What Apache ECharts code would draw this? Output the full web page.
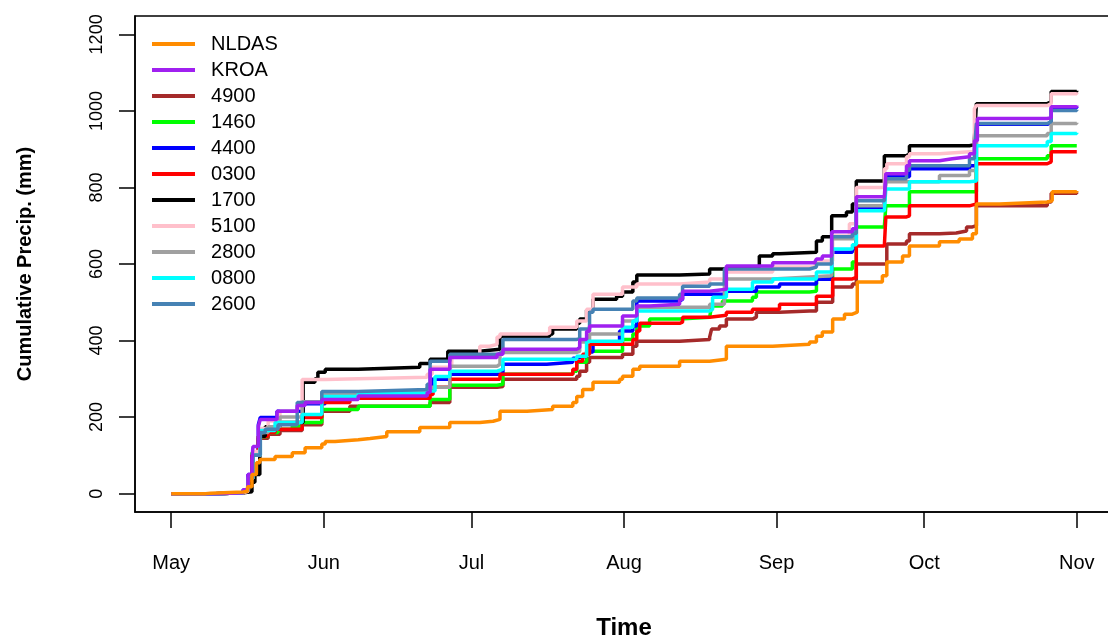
<!DOCTYPE html>
<html>
<head>
<meta charset="utf-8">
<script src="https://cdn.jsdelivr.net/npm/echarts@6/dist/echarts.min.js"></script>
<style>
  html, body { margin: 0; background: #fff; }
  #chart { width: 1108px; height: 641px; }
</style>
</head>
<body>
<div id="chart"></div>
<script>
// x values are days counted from May 1
const monthDays = [0, 31, 61, 92, 123, 153, 184];
const monthLabels = ['May', 'Jun', 'Jul', 'Aug', 'Sep', 'Oct', 'Nov'];
const yTicks = [0, 200, 400, 600, 800, 1000, 1200];

const legendOrder = ['NLDAS', 'KROA', '4900', '1460', '4400', '0300', '1700', '5100', '2800', '0800', '2600'];
const colors = {
  NLDAS: '#FF8C00', KROA: '#A020F0', '4900': '#A52A2A', '1460': '#00FF00', '4400': '#0000FF',
  '0300': '#FF0000', '1700': '#000000', '5100': '#FFC0CB', '2800': '#A0A0A0', '0800': '#00FFFF', '2600': '#4682B4'
};

// cumulative precipitation (mm), [day, value] at each step
const nldas = [[0,0],[7,1],[8,4],[14.6,6],[15.5,18],[16.4,50],[17.3,81],[18,89],[21.1,97],[24.6,107],[27.2,120],[30.6,130],[31.3,136],[33.3,141],[38,144],[40.4,149],[43.8,162],[50.5,173],[56.6,186],[62.7,189],[65.4,194],[66.8,215],[72.3,220],[77.5,228],[81.6,238],[82.4,254],[83.6,272],[85.7,291],[91.1,299],[91.7,307],[93.8,325],[95.2,333],[103.3,346],[109.4,351],[112.8,385],[122.2,390],[129.7,396],[131.1,411],[132.3,422],[134.4,456],[136.8,469],[138.4,474],[139.4,553],[144.5,569],[145.4,605],[148.6,621],[150,647],[156.1,658],[160.1,665],[162.8,679],[163.6,757],[168.3,762],[178,765],[179,789],[184,791]];
const kroa = [[0,0],[9,2],[14.6,10],[15.6,50],[16.4,89],[16.6,123],[17.7,176],[18.1,194],[21.5,215],[25.6,230],[27.2,238],[30.6,246],[38,255],[52,264],[52.6,325],[56.6,356],[66.2,364],[67.4,377],[82.4,382],[83,403],[84.4,424],[85,438],[91.7,464],[94.6,490],[97.2,495],[103.3,508],[103.9,529],[109.4,534],[112.8,595],[122.2,603],[130.7,605],[131.1,613],[132.3,621],[134.2,684],[138.4,692],[139.2,776],[144.9,776],[145.2,836],[149.4,857],[150,870],[156.1,875],[158.7,880],[162.2,888],[163.2,922],[163.8,980],[178,982],[178.8,1011],[184,1014]];
const s4900 = [[0,0],[9,2],[14.6,5],[15.6,25],[16.4,100],[17.7,145],[19.7,155],[22.1,165],[26.6,180],[30.6,215],[36.3,228],[52.6,238],[56.6,278],[66.2,280],[67.4,299],[82.4,307],[83,320],[84.4,343],[85,356],[91.7,364],[93.8,385],[94.6,398],[103.3,403],[109.4,409],[109.8,430],[111.4,438],[112.8,456],[118.1,461],[118.9,474],[123.6,477],[129.7,477],[131.1,500],[134.4,540],[138.4,548],[139.2,600],[144.9,600],[145.4,652],[149.4,660],[150,679],[156.1,681],[159.5,686],[161.6,697],[162.8,700],[163.6,752],[178,762],[178.8,785],[184,787]];
const s1460 = [[0,0],[9,2],[14.6,6],[15.6,30],[16.4,107],[17.7,149],[19.7,160],[21.7,168],[24.6,176],[26.6,186],[30.6,220],[38,228],[52.6,246],[56.6,283],[66.2,286],[67.4,312],[81.6,320],[82.4,343],[84.4,372],[91.7,403],[93.8,417],[94.6,438],[97.2,456],[103.3,461],[109.4,464],[109.8,490],[112,503],[118.1,513],[118.9,527],[129.7,529],[131.1,561],[134.4,587],[138.4,605],[139.2,697],[144.9,697],[145.2,752],[150,789],[162.2,789],[163.6,875],[178,883],[178.8,909],[184,909]];
const s4400 = [[0,0],[9,2],[14.6,10],[15.6,50],[16.4,100],[17.7,180],[18.1,199],[21.5,215],[26.8,235],[31.3,248],[38,256],[52,262],[53,299],[56.6,312],[67.4,338],[76.3,343],[81.6,354],[82.4,359],[84.4,370],[85.7,390],[91.1,425],[93.8,438],[94.6,503],[103.3,508],[103.9,521],[112.8,529],[118.9,540],[123.6,548],[129.7,548],[131.1,560],[134.2,631],[138.4,640],[139.2,745],[144.9,760],[145.2,828],[150,849],[162.2,857],[163.6,965],[178,970],[178.8,1008],[184,1010]];
const s0300 = [[0,0],[9,2],[14.6,6],[15.6,30],[16.4,100],[17.7,150],[19.7,160],[21.1,168],[26.6,199],[30.6,238],[36.3,249],[52.6,259],[53.2,278],[56.6,299],[64.7,299],[66.8,312],[81.6,325],[82.4,346],[83.6,364],[85,390],[93.8,403],[94.6,425],[95.2,445],[103.3,448],[103.9,461],[109.4,466],[112.8,474],[118.1,482],[123.6,495],[129.7,495],[131.1,516],[134.4,561],[138.4,565],[139.2,647],[144.9,647],[145.2,723],[149.4,726],[150,752],[162.2,757],[163.6,862],[178,867],[178.8,893],[184,893]];
const s1700 = [[0,0],[9,2],[14.6,5],[16.4,30],[17,50],[18,150],[19.1,175],[22.1,186],[26.8,291],[29.2,300],[29.8,317],[31.3,325],[38,330],[50.5,340],[52.6,351],[56.2,372],[62.7,377],[66.8,411],[76.9,417],[77.5,430],[82.4,445],[83,456],[84.4,480],[85.7,508],[90.5,516],[91.7,527],[93.8,553],[94.6,571],[103.3,574],[109.4,587],[112.4,592],[119.5,621],[122.2,627],[123.6,631],[131.1,660],[132.3,671],[134.2,726],[137.2,736],[138.4,757],[139.2,817],[144.9,883],[149.4,888],[150,909],[162.2,912],[163.2,927],[163.6,1019],[178,1024],[178.8,1051],[184,1053]];
const s5100 = [[0,0],[9,2],[14.6,6],[15.6,40],[16.6,110],[18,170],[19.7,190],[22.1,215],[25.6,225],[26.6,298],[31.3,300],[38,304],[52,312],[53,330],[57,360],[62.7,385],[64.7,390],[66.2,409],[66.8,417],[76.3,420],[76.9,435],[82.4,451],[84.4,482],[85.7,521],[91.7,540],[94.6,548],[103.3,553],[109.4,561],[112.4,579],[122.2,592],[130.7,592],[131.1,608],[134.4,673],[137.8,705],[139.2,800],[144.9,849],[145.4,862],[149.4,880],[150,888],[156.1,893],[162.2,893],[163.2,1006],[163.6,1014],[178,1019],[178.8,1045],[184,1048]];
const s2800 = [[0,0],[9,2],[14.6,8],[15.6,40],[16.6,100],[18.1,160],[19.7,175],[22.1,200],[26.6,240],[30.6,262],[38,267],[52,278],[56.6,333],[66.2,338],[66.8,369],[82.4,372],[83,396],[85,417],[91.7,451],[93.8,455],[94.6,487],[109.4,495],[112.4,561],[122.2,566],[129.7,569],[134.2,666],[138.4,666],[139.2,752],[144.9,752],[145.2,815],[156.1,831],[162.2,844],[163.6,935],[178,941],[178.8,967],[184,969]];
const s0800 = [[0,0],[9,2],[14.6,8],[15.6,40],[16.6,100],[18.1,165],[21.1,186],[26.6,207],[30.6,254],[38,262],[52,268],[53.6,306],[56.6,320],[66.2,325],[67.4,351],[82.4,359],[84.4,398],[91.7,435],[93.8,451],[94.6,477],[109.4,482],[110,513],[112.8,534],[118.1,553],[122.2,561],[129.7,561],[131.1,579],[134.2,639],[138.4,650],[139.2,739],[144.9,739],[145.2,796],[150,815],[162.2,817],[163.6,909],[178,920],[178.8,941],[184,943]];
const s2600 = [[0,0],[9,2],[14.6,8],[15.6,40],[16.6,100],[18.1,160],[19.1,168],[21.7,180],[25.6,238],[30.6,267],[38,272],[52,286],[52.6,346],[56.6,364],[66.2,369],[67.4,403],[82.4,405],[83,430],[85,474],[85.7,482],[93.8,503],[94.6,511],[97.2,511],[103.3,521],[103.9,542],[109.4,548],[112.4,587],[129.7,592],[131.1,600],[134.2,671],[138.4,680],[139.2,765],[144.9,765],[145.2,823],[149.4,845],[150,857],[162.2,875],[163.2,900],[163.6,967],[178,972],[178.8,1001],[184,1003]];

// drawing order: stations first, KROA and NLDAS on top
const drawOrder = [
  ['4900', s4900], ['1460', s1460], ['4400', s4400], ['0300', s0300], ['1700', s1700],
  ['5100', s5100], ['2800', s2800], ['0800', s0800], ['2600', s2600], ['KROA', kroa], ['NLDAS', nldas]
];

const font = 'Liberation Sans';
const chart = echarts.init(document.getElementById('chart'));
chart.setOption({
  animation: false,
  backgroundColor: '#fff',
  grid: {
    left: 135, top: 16, width: 978, height: 496,
    outerBoundsMode: 'none',
    show: true, borderColor: '#000', borderWidth: 1.5
  },
  legend: {
    data: legendOrder,
    orient: 'vertical',
    left: 152, top: 34, padding: 0,
    itemWidth: 43, itemHeight: 4, itemGap: 6,
    icon: 'rect',
    formatter: name => '  ' + name,
    textStyle: { fontFamily: font, fontSize: 20, color: '#000' }
  },
  xAxis: {
    type: 'value',
    min: -7.36, max: 191.36,
    name: 'Time', nameLocation: 'middle', nameGap: 104,
    nameTextStyle: { fontFamily: font, fontSize: 24, fontWeight: 'bold', color: '#000' },
    axisLine: { show: true, onZero: false, lineStyle: { color: '#000', width: 1.5 } },
    axisTick: { show: true, length: 16, customValues: monthDays, lineStyle: { color: '#000', width: 1.5 } },
    axisLabel: {
      customValues: monthDays, margin: 41,
      fontFamily: font, fontSize: 20, color: '#000',
      formatter: v => monthLabels[monthDays.indexOf(v)]
    },
    splitLine: { show: false }
  },
  yAxis: {
    type: 'value',
    min: -48, max: 1248,
    name: 'Cumulative Precip. (mm)', nameLocation: 'middle', nameGap: 100,
    nameTextStyle: { fontFamily: font, fontSize: 20, fontWeight: 'bold', color: '#000' },
    axisLine: { show: true, onZero: false, lineStyle: { color: '#000', width: 1.5 } },
    axisTick: { show: true, length: 16, customValues: yTicks, lineStyle: { color: '#000', width: 1.5 } },
    axisLabel: {
      customValues: yTicks, rotate: 90, margin: 29,
      fontFamily: font, fontSize: 18, color: '#000',
      formatter: v => String(v)
    },
    splitLine: { show: false }
  },
  series: drawOrder.map(([name, data]) => ({
    name: name,
    type: 'line',
    step: 'end',
    data: data,
    showSymbol: false,
    symbol: 'none',
    color: colors[name],
    lineStyle: { width: 3.5, color: colors[name] }
  }))
});
</script>
</body>
</html>
